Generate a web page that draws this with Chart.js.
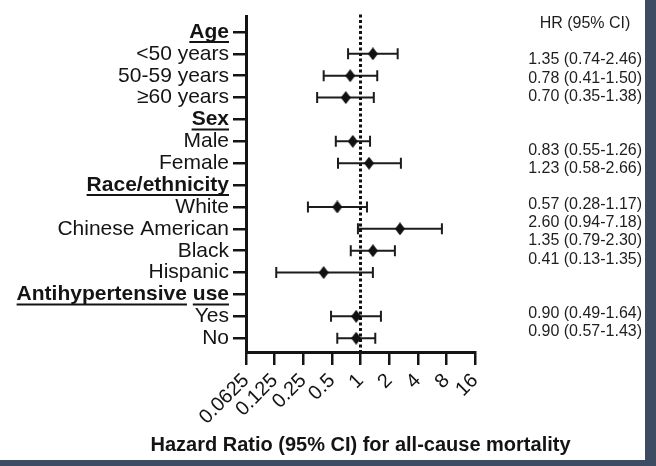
<!DOCTYPE html>
<html><head><meta charset="utf-8">
<script src="https://cdn.jsdelivr.net/npm/chart.js@4.4.1/dist/chart.umd.min.js"></script>
<style>
html,body{margin:0;padding:0;background:#3d4b63;width:656px;height:466px;overflow:hidden}
#wrap{position:absolute;left:0;top:0;width:645px;height:460px;background:#fff}
canvas{display:block}
</style></head><body>
<div id="wrap"><canvas id="c" width="645" height="460"></canvas></div>
<script>
const rowLabels = ['Age','<50 years','50-59 years','≥60 years','Sex','Male','Female','Race/ethnicity','White','Chinese American','Black','Hispanic','Antihypertensive use','Yes','No'];
const headerRows = [0,4,7,12];
const hr     = [null,1.35,0.78,0.70,null,0.83,1.23,null,0.57,2.60,1.35,0.41,null,0.90,0.90];
const ciLow  = [null,0.74,0.41,0.35,null,0.55,0.58,null,0.28,0.94,0.79,0.13,null,0.49,0.57];
const ciHigh = [null,2.46,1.50,1.38,null,1.26,2.66,null,1.17,7.18,2.30,1.35,null,1.64,1.43];
const xTickValues = [0.0625,0.125,0.25,0.5,1,2,4,8,16];
const xTickLabels = ['0.0625','0.125','0.25','0.5','1','2','4','8','16'];
const refValue = 1;
const xTitle = 'Hazard Ratio (95% CI) for all-cause mortality';
const tableHeader = 'HR (95% CI)';

const FAM = '"Liberation Sans", Arial, Helvetica, sans-serif';
const INK = '#141414';

// diamond marker image (slightly taller than wide, as in the reference)
const diamond = document.createElement('canvas');
diamond.width = 10; diamond.height = 13;
(function () {
  const g = diamond.getContext('2d');
  g.fillStyle = '#111';
  g.beginPath();
  g.moveTo(5, 0); g.lineTo(10, 6.5); g.lineTo(5, 13); g.lineTo(0, 6.5);
  g.closePath(); g.fill();
})();

const errorBars = {
  id: 'errorBars',
  beforeDatasetsDraw(chart) {
    const {ctx, scales: {x, y}} = chart;
    ctx.save();
    ctx.strokeStyle = '#1c1c1c';
    ctx.lineWidth = 2;
    hr.forEach((v, i) => {
      if (v == null) return;
      const py = y.getPixelForValue(i);
      const x1 = x.getPixelForValue(ciLow[i]);
      const x2 = x.getPixelForValue(ciHigh[i]);
      ctx.beginPath();
      ctx.moveTo(x1, py); ctx.lineTo(x2, py);
      ctx.moveTo(x1, py - 5.5); ctx.lineTo(x1, py + 5.5);
      ctx.moveTo(x2, py - 5.5); ctx.lineTo(x2, py + 5.5);
      ctx.stroke();
    });
    ctx.restore();
  }
};

const hrTable = {
  id: 'hrTable',
  afterDraw(chart, args, opts) {
    const ctx = chart.ctx;
    ctx.save();
    ctx.font = '16px ' + FAM;
    ctx.fillStyle = '#1e1e1e';
    ctx.textBaseline = 'middle';
    ctx.textAlign = 'center';
    ctx.fillText(tableHeader, opts.headerX, opts.headerY);
    ctx.textAlign = 'right';
    hr.forEach((v, i) => {
      if (v == null) return;
      const s = v.toFixed(2) + ' (' + ciLow[i].toFixed(2) + '-' + ciHigh[i].toFixed(2) + ')';
      ctx.fillText(s, opts.rightX, opts.firstY + opts.slots[i] * opts.lineH);
    });
    ctx.restore();
  }
};

const axisTitle = {
  id: 'axisTitle',
  afterDraw(chart, args, opts) {
    const {ctx, chartArea} = chart;
    ctx.save();
    ctx.font = 'bold 20px ' + FAM;
    ctx.fillStyle = INK;
    ctx.textAlign = 'center';
    ctx.textBaseline = 'middle';
    ctx.fillText(xTitle, (chartArea.left + chartArea.right) / 2, opts.y);
    ctx.restore();
  }
};

const underline = {
  id: 'underline',
  afterDraw(chart) {
    const {ctx, scales: {y}} = chart;
    const xr = y.right - 13 - 4;
    ctx.save();
    ctx.font = 'bold 21px ' + FAM;
    ctx.strokeStyle = INK;
    ctx.lineWidth = 2;
    const sp = ctx.measureText(' ').width;
    headerRows.forEach(i => {
      const label = rowLabels[i];
      const py = y.getPixelForValue(i) + 10;
      let start = xr - ctx.measureText(label).width;
      label.split(' ').forEach(w => {
        const ww = ctx.measureText(w).width;
        ctx.beginPath();
        ctx.moveTo(start, py); ctx.lineTo(start + ww, py);
        ctx.stroke();
        start += ww + sp;
      });
    });
    ctx.restore();
  }
};

const tickGrid = {display: true, drawOnChartArea: false, drawTicks: true, tickLength: 13, lineWidth: 2.5, color: INK};
const axisBorder = {display: true, color: INK, width: 3};

new Chart(document.getElementById('c'), {
  type: 'scatter',
  data: {
    datasets: [
      {
        label: 'HR',
        data: hr.map((v, i) => v == null ? null : {x: v, y: i}).filter(Boolean),
        pointStyle: diamond,
        pointRadius: 6,
        backgroundColor: '#111',
        borderColor: '#111',
        order: 1
      },
      {
        label: 'ref',
        type: 'line',
        data: [{x: refValue, y: -0.8}, {x: refValue, y: 14.63}],
        borderColor: '#111',
        borderWidth: 3,
        borderDash: [3, 2.5],
        pointRadius: 0,
        showLine: true,
        clip: false,
        order: 2
      }
    ]
  },
  options: {
    responsive: false,
    animation: false,
    layout: {padding: {left: 0, right: 170, top: 10, bottom: 0}},
    plugins: {
      legend: {display: false},
      tooltip: {enabled: false},
      hrTable: {headerX: 585, headerY: 24, rightX: 642, firstY: 60, lineH: 18.1,
                slots: [null,0,1,2,null,5,6,null,8,9,10,11,null,14,15]},
      axisTitle: {y: 445}
    },
    scales: {
      x: {
        type: 'logarithmic',
        min: 0.0625, max: 16,
        afterBuildTicks(a) { a.ticks = xTickValues.map(v => ({value: v})); },
        afterFit(a) { a.height = 108; },
        ticks: {
          callback: (v) => xTickLabels[xTickValues.indexOf(v)],
          minRotation: 45, maxRotation: 45, autoSkip: false,
          color: INK, font: {family: FAM, size: 20}, padding: 4
        },
        grid: tickGrid,
        border: axisBorder,
        title: {display: false}
      },
      y: {
        type: 'linear',
        reverse: true,
        min: -0.704, max: 14.63,
        afterBuildTicks(a) { a.ticks = rowLabels.map((_, i) => ({value: i})); },
        afterFit(a) { a.width = 246; },
        ticks: {
          callback: (v) => rowLabels[v],
          autoSkip: false,
          color: INK,
          font: (c) => ({family: FAM, size: 21,
                         weight: (c.tick && headerRows.includes(c.tick.value)) ? 'bold' : 'normal'}),
          padding: 4
        },
        grid: tickGrid,
        border: axisBorder
      }
    }
  },
  plugins: [errorBars, hrTable, axisTitle, underline]
});
</script>
</body></html>
